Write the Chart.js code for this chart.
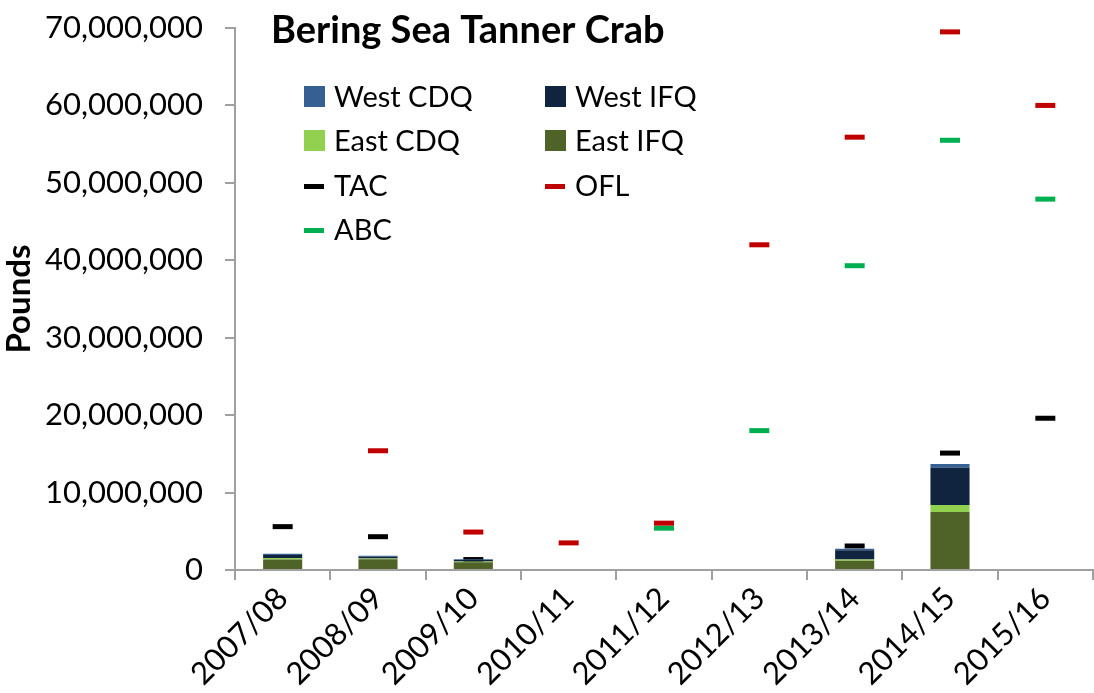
<!DOCTYPE html>
<html>
<head>
<meta charset="utf-8">
<script src="https://cdn.jsdelivr.net/npm/chart.js@4.4.1/dist/chart.umd.min.js"></script>
<style>
  html, body { margin: 0; padding: 0; background: #fff; overflow: hidden; }
  #wrap { width: 1108px; height: 693px; }
</style>
</head>
<body>
<div id="wrap"><canvas id="chart"></canvas></div>
<script>
// Bering Sea Tanner crab harvest (lbs) by season
const seasons = ['2007/08', '2008/09', '2009/10', '2010/11', '2011/12', '2012/13', '2013/14', '2014/15', '2015/16']

const eastIfq = [1350000, 1400000, 1000000, 0, 0, 0, 1200000, 7500000, 0]
const eastCdq = [200000, 100000, 100000, 0, 0, 0, 150000, 900000, 0]
const westIfq = [400000, 200000, 200000, 0, 0, 0, 1200000, 4800000, 0]
const westCdq = [150000, 150000, 100000, 0, 0, 0, 200000, 500000, 0]

const tac = [5600000, 4300000, 1350000, null, null, null, 3100000, 15100000, 19600000]
const ofl = [null, 15400000, 4900000, 3500000, 6050000, 42000000, 55900000, 69500000, 60000000]
const abc = [null, null, null, null, 5400000, 18000000, 39300000, 55500000, 47900000]

const yTicks = [0, 10000000, 20000000, 30000000, 40000000, 50000000, 60000000, 70000000]

const FONT = 'Lato, "Open Sans", sans-serif'
const legendOrder = ['West CDQ', 'West IFQ', 'East CDQ', 'East IFQ', 'TAC', 'OFL', 'ABC']

function barSet(label, data, color) {
  return {
    type: 'bar',
    label: label,
    data: data,
    backgroundColor: color,
    borderWidth: 0,
    stack: 'harvest',
    barPercentage: 0.41,
    categoryPercentage: 1
  }
}

function dashSet(label, data, color) {
  return {
    type: 'line',
    label: label,
    data: data,
    showLine: false,
    stack: label,
    pointStyle: 'line',
    pointRadius: 10,
    pointHoverRadius: 10,
    pointBorderWidth: 5,
    pointBorderColor: color,
    borderColor: color,
    backgroundColor: color
  }
}

// Title and two-column legend drawn inside the plot area, like the original
const overlay = {
  id: 'overlay',
  afterDraw(chart) {
    const ctx = chart.ctx
    ctx.save()
    ctx.fillStyle = '#000'
    ctx.textBaseline = 'middle'
    ctx.textAlign = 'left'
    ctx.font = 'bold 38px ' + FONT
    ctx.fillText('Bering Sea Tanner Crab', 271, 31)

    ctx.font = '29px ' + FONT
    const cols = [304, 545]
    const rowY = [97, 141, 186, 230]
    legendOrder.forEach((name, i) => {
      const ds = chart.data.datasets.find(d => d.label === name)
      const x = cols[i % 2]
      const y = rowY[Math.floor(i / 2)]
      if (ds.type === 'bar') {
        ctx.fillStyle = ds.backgroundColor
        ctx.fillRect(x, y - 11, 21, 21)
      } else {
        ctx.fillStyle = ds.pointBorderColor
        ctx.fillRect(x, y - 2, 20, 5)
      }
      ctx.fillStyle = '#000'
      ctx.fillText(name, x + 30, y + 1)
    })
    ctx.restore()
  }
}

new Chart(document.getElementById('chart'), {
  data: {
    labels: seasons,
    datasets: [
      barSet('East IFQ', eastIfq, '#4F6228'),
      barSet('East CDQ', eastCdq, '#92D050'),
      barSet('West IFQ', westIfq, '#10243F'),
      barSet('West CDQ', westCdq, '#376092'),
      dashSet('TAC', tac, '#000000'),
      dashSet('OFL', ofl, '#C00000'),
      dashSet('ABC', abc, '#00B050')
    ]
  },
  options: {
    responsive: true,
    maintainAspectRatio: false,
    animation: false,
    layout: { padding: { top: 28, right: 1, left: 0, bottom: 0 } },
    plugins: {
      legend: { display: false },
      tooltip: { enabled: false }
    },
    scales: {
      x: {
        stacked: true,
        offset: true,
        border: { color: '#A0A0A0', width: 2 },
        grid: { display: true, drawOnChartArea: false, offset: true, tickLength: 10, color: '#A0A0A0', lineWidth: 2 },
        ticks: {
          color: '#000',
          font: { family: FONT, size: 31 },
          maxRotation: 45,
          minRotation: 45,
          padding: 0,
          autoSkip: false
        },
        afterFit: (scale) => {
          scale.height = 123
          scale.paddingLeft = 0
          scale.paddingRight = 0
        }
      },
      y: {
        stacked: true,
        min: 0,
        max: 70000000,
        border: { color: '#A0A0A0', width: 2 },
        grid: { display: true, drawOnChartArea: false, tickLength: 10, color: '#A0A0A0', lineWidth: 2 },
        afterBuildTicks: (scale) => { scale.ticks = yTicks.map(v => ({ value: v })) },
        ticks: {
          color: '#000',
          font: { family: FONT, size: 31 },
          padding: 22,
          callback: (v) => Number(v).toLocaleString('en-US')
        },
        title: {
          display: true,
          text: 'Pounds',
          color: '#000',
          font: { family: FONT, size: 33, weight: 'bold' },
          padding: { top: 0, bottom: 2 }
        },
        afterFit: (scale) => {
          scale.width = 235
          scale.paddingTop = 0
          scale.paddingBottom = 0
        }
      }
    }
  },
  plugins: [overlay]
})
</script>
</body>
</html>
